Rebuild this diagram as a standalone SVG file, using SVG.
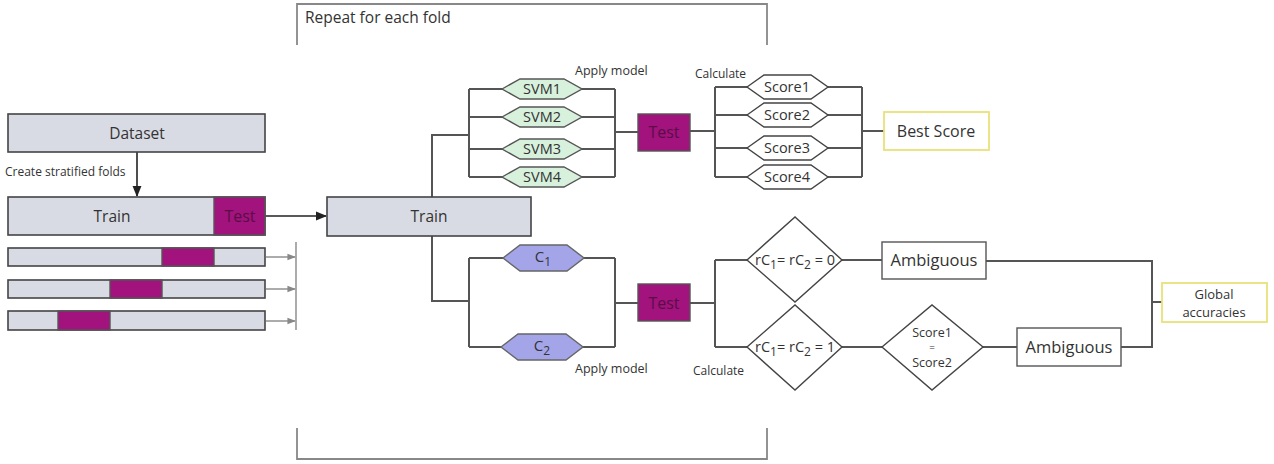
<svg xmlns="http://www.w3.org/2000/svg" width="1274" height="464" viewBox="0 0 1274 464">
<defs>
<style>
text{font-family:"Open Sans","Noto Sans","Liberation Sans",sans-serif;fill:#333;}
.gray{fill:#d9dbe4;stroke:#444;stroke-width:1.6;}
.mag{fill:#a2137e;stroke:#555;stroke-width:1.4;}
.ttxt{fill:#5a0e46;font-size:16px;text-anchor:middle;}
.ln{fill:none;stroke:#555;stroke-width:2;}
.bracket{fill:none;stroke:#888;stroke-width:1.8;}
.svm{fill:#d8f1dc;stroke:#555;stroke-width:1.4;}
.sc{fill:#fff;stroke:#444;stroke-width:1.4;}
.cc{fill:#a3a5e8;stroke:#666;stroke-width:1.4;}
.wbox{fill:#fff;stroke:#555;stroke-width:1.4;}
.ybox{fill:#fff;stroke:#e8e27a;stroke-width:1.8;}
.small{font-size:12px;}
.mid{text-anchor:middle;}
</style>
<marker id="ab" viewBox="0 0 10 10" refX="9" refY="5" markerWidth="7" markerHeight="7" orient="auto"><path d="M0,1 L10,5 L0,9 z" fill="#222"/></marker>
<marker id="ag" viewBox="0 0 10 10" refX="9" refY="5" markerWidth="6" markerHeight="6" orient="auto"><path d="M0,1 L10,5 L0,9 z" fill="#888"/></marker>
</defs>
<rect width="1274" height="464" fill="#fff"/>

<g id="repeat-bracket">
<path class="bracket" d="M297,45 V4 H767 V45"/>
<path class="bracket" d="M297,428 V459 H767 V428"/>
<text x="305" y="23" font-size="15.5">Repeat for each fold</text>
</g>

<g id="connectors">
<line x1="137" y1="152" x2="137" y2="196" stroke="#222" stroke-width="1.6" marker-end="url(#ab)"/>
<line x1="265" y1="216" x2="326" y2="216" stroke="#222" stroke-width="1.6" marker-end="url(#ab)"/>
<line x1="266" y1="257" x2="295" y2="257" stroke="#888" stroke-width="1.4" marker-end="url(#ag)"/>
<line x1="266" y1="289" x2="295" y2="289" stroke="#888" stroke-width="1.4" marker-end="url(#ag)"/>
<line x1="266" y1="321" x2="295" y2="321" stroke="#888" stroke-width="1.4" marker-end="url(#ag)"/>
<line x1="296" y1="242" x2="296" y2="330" stroke="#888" stroke-width="1.4"/>
<path class="ln" d="M432,197 V135 H469"/>
<path class="ln" d="M469,89 V177"/>
<path class="ln" d="M469,89 H502 M469,117 H502 M469,149 H502 M469,177 H502"/>
<path class="ln" d="M582,89 H615 M582,117 H615 M582,149 H615 M582,177 H615"/>
<path class="ln" d="M615,89 V177 M615,132 H638"/>
<path class="ln" d="M690,131 H715 M715,87 V177"/>
<path class="ln" d="M715,87 H747 M715,115 H747 M715,148 H747 M715,177 H747"/>
<path class="ln" d="M828,87 H862 M828,115 H862 M828,148 H862 M828,177 H862"/>
<path class="ln" d="M862,87 V177 M862,131 H884"/>
<path class="ln" d="M432,236 V301 H469"/>
<path class="ln" d="M469,258 V347 M469,258 H503 M469,347 H501"/>
<path class="ln" d="M584,258 H615 M583,347 H615 M615,258 V347 M615,303 H638"/>
<path class="ln" d="M690,303 H715 M715,260 V347 M715,260 H747 M715,347 H747"/>
<path class="ln" d="M842,260 H882 M842,347 H882"/>
<path class="ln" d="M986,261 H1152 V347 H1121 M1152,302 H1162"/>
<path class="ln" d="M983,347 H1017"/>
</g>

<g id="dataset">
<rect class="gray" x="8" y="114" width="257" height="38"/>
<text x="137" y="139" font-size="15.5" class="mid">Dataset</text>
</g>
<text x="5" y="176" class="small">Create stratified folds</text>

<g id="train-test">
<rect class="gray" x="8" y="197" width="257" height="38"/>
<rect class="mag" x="214" y="197" width="51" height="38"/>
<text x="112" y="222" font-size="15.5" class="mid">Train</text>
<text x="240" y="222" class="ttxt">Test</text>
</g>

<g id="fold1">
<rect class="gray" x="8" y="248" width="257" height="18"/>
<rect class="mag" x="162" y="248" width="52" height="18"/>
</g>
<g id="fold2">
<rect class="gray" x="8" y="280" width="257" height="18"/>
<rect class="mag" x="110" y="280" width="52" height="18"/>
</g>
<g id="fold3">
<rect class="gray" x="8" y="311" width="257" height="19"/>
<rect class="mag" x="58" y="311" width="52" height="19"/>
</g>

<g id="train">
<rect class="gray" x="327" y="197" width="204" height="39"/>
<text x="429" y="222" font-size="15.5" class="mid">Train</text>
</g>

<g id="svm1"><polygon class="svm" points="502,89 520,79 564,79 582,89 564,99 520,99"/><text x="542" y="94" font-size="14.5" class="mid">SVM1</text></g>
<g id="svm2"><polygon class="svm" points="502,117 520,107 564,107 582,117 564,127 520,127"/><text x="542" y="122" font-size="14.5" class="mid">SVM2</text></g>
<g id="svm3"><polygon class="svm" points="502,149 520,139 564,139 582,149 564,159 520,159"/><text x="542" y="154" font-size="14.5" class="mid">SVM3</text></g>
<g id="svm4"><polygon class="svm" points="502,177 520,167 564,167 582,177 564,187 520,187"/><text x="542" y="182" font-size="14.5" class="mid">SVM4</text></g>
<text x="575" y="75" font-size="12.5">Apply model</text>

<g id="test-top">
<rect class="mag" x="638" y="114" width="52" height="37"/>
<text x="664" y="138" class="ttxt">Test</text>
</g>
<text x="695" y="78" class="small">Calculate</text>

<g id="score1"><polygon class="sc" points="747,87 764,75 811,75 828,87 811,99 764,99"/><text x="787" y="92" font-size="14.5" class="mid">Score1</text></g>
<g id="score2"><polygon class="sc" points="747,115 764,103 811,103 828,115 811,127 764,127"/><text x="787" y="120" font-size="14.5" class="mid">Score2</text></g>
<g id="score3"><polygon class="sc" points="747,148 764,136 811,136 828,148 811,160 764,160"/><text x="787" y="153" font-size="14.5" class="mid">Score3</text></g>
<g id="score4"><polygon class="sc" points="747,177 764,165 811,165 828,177 811,189 764,189"/><text x="787" y="182" font-size="14.5" class="mid">Score4</text></g>

<g id="best-score">
<rect class="ybox" x="884" y="112" width="105" height="38"/>
<text x="936" y="137" font-size="16" class="mid">Best Score</text>
</g>

<g id="c1"><polygon class="cc" points="503,258 520,245 567,245 584,258 567,271 520,271"/><text x="543" y="262" font-size="15" class="mid">C<tspan dy="4" font-size="12">1</tspan></text></g>
<g id="c2"><polygon class="cc" points="501,347 518,334 566,334 583,347 566,360 518,360"/><text x="542" y="351" font-size="15" class="mid">C<tspan dy="4" font-size="12">2</tspan></text></g>
<text x="575" y="373" font-size="12.5">Apply model</text>

<g id="test-bottom">
<rect class="mag" x="638" y="284" width="52" height="37"/>
<text x="664" y="309" class="ttxt">Test</text>
</g>
<text x="693" y="375" class="small">Calculate</text>

<g id="cond0">
<polygon class="sc" points="747,260 795,217 842,260 795,302"/>
<text x="795" y="265" font-size="14.5" class="mid">rC<tspan dy="4" font-size="12">1</tspan><tspan dy="-4">= rC</tspan><tspan dy="4" font-size="12">2</tspan><tspan dy="-4"> = 0</tspan></text>
</g>
<g id="cond1">
<polygon class="sc" points="747,347 795,305 842,347 795,390"/>
<text x="795" y="352" font-size="14.5" class="mid">rC<tspan dy="4" font-size="12">1</tspan><tspan dy="-4">= rC</tspan><tspan dy="4" font-size="12">2</tspan><tspan dy="-4"> = 1</tspan></text>
</g>

<g id="ambiguous1">
<rect class="wbox" x="882" y="242" width="104" height="37"/>
<text x="934" y="266" font-size="16.5" class="mid">Ambiguous</text>
</g>

<g id="score-eq">
<polygon class="sc" points="882,347 932,305 983,347 932,390"/>
<text x="932" y="337" font-size="12.5" class="mid">Score1</text>
<text x="932" y="351" font-size="10" class="mid">=</text>
<text x="932" y="367" font-size="12.5" class="mid">Score2</text>
</g>

<g id="ambiguous2">
<rect class="wbox" x="1017" y="328" width="104" height="38"/>
<text x="1069" y="353" font-size="16.5" class="mid">Ambiguous</text>
</g>

<g id="global">
<rect class="ybox" x="1162" y="283" width="105" height="39"/>
<text x="1214" y="299" font-size="13" class="mid">Global</text>
<text x="1214" y="317" font-size="13" class="mid">accuracies</text>
</g>
</svg>
